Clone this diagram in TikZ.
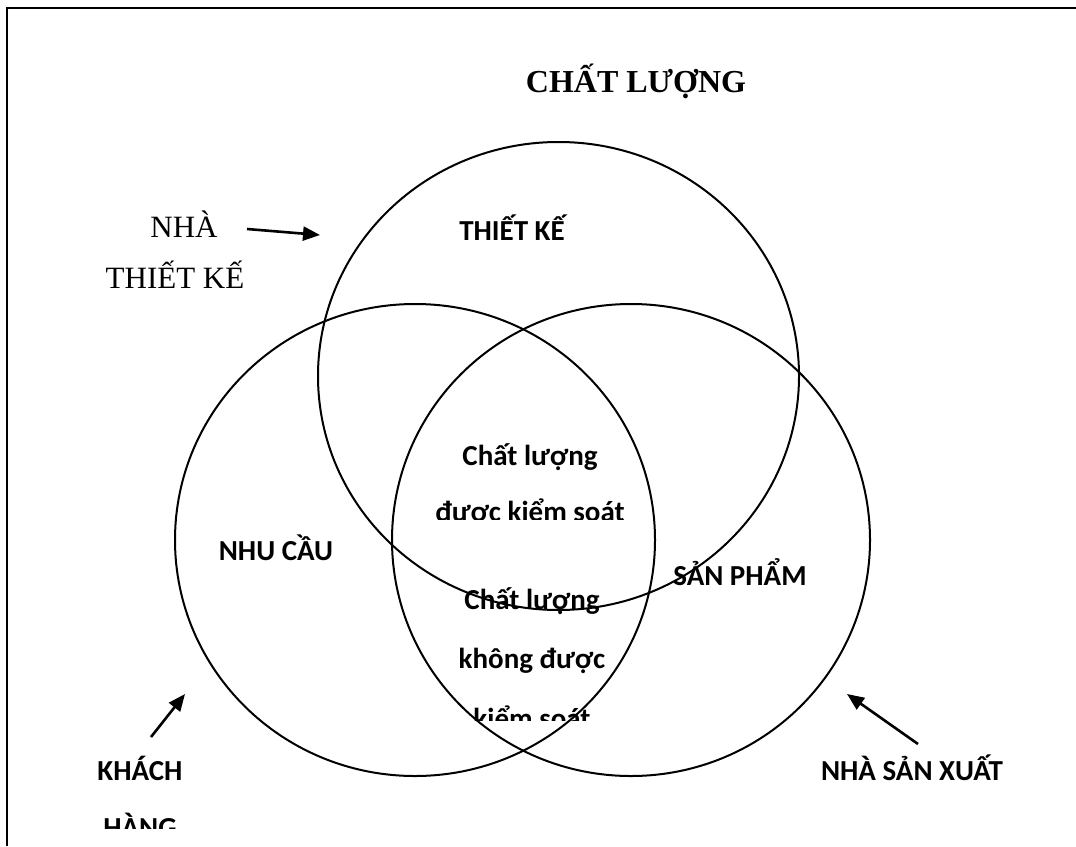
\documentclass[tikz,border=0pt]{standalone}
\usepackage{fontspec}
\setmainfont{Liberation Serif}
\newfontfamily\calfont{Carlito}
\usetikzlibrary{arrows.meta}
\tikzset{
  ring/.style={draw=black, line width=2pt},
  lbl/.style={font=\calfont\bfseries\fontsize{29}{34}\selectfont, anchor=base, inner sep=0pt},
  serif/.style={font=\fontsize{31}{36}\selectfont, anchor=base, inner sep=0pt},
  title/.style={font=\bfseries\fontsize{32}{38}\selectfont, anchor=base, inner sep=0pt},
  pointer/.style={line width=2.6pt, -{Triangle[length=17pt,width=14pt]}}
}
\begin{document}
\begin{tikzpicture}[x=1pt,y=-1pt]
\useasboundingbox (0,0) rectangle (1076,846);
% open frame: only the top and left edges show
\draw[line width=2.6pt] (7,846) -- (7,8) -- (1076,8);

% three overlapping rings
\draw[ring] (558.5,376) ellipse [x radius=240.5, y radius=234];
\draw[ring] (415,540) ellipse [x radius=240, y radius=236];
\draw[ring] (631,540) ellipse [x radius=239, y radius=236];

% heading
\node[title] (title) at (636,92) {CHẤT LƯỢNG};

% designer label and pointer
\node[serif] (nha) at (184,237) {NHÀ};
\node[serif] (tk) at (175,288) {THIẾT KẾ};
\coordinate (p1a) at (247,229);
\coordinate (p1b) at (320,235);
\draw[pointer] (p1a) -- (p1b);

% ring labels
\node[lbl] (design) at (512,240) {THIẾT KẾ};
\node[lbl] (needs) at (276,560) {NHU CẦU};
\node[lbl] (product) at (740,585) {SẢN PHẨM};

% centre texts, cut off at the bottom of their boxes
\node[lbl] (cq1) at (530,465) {Chất lượng};
\begin{scope}
  \clip (400,480) rectangle (660,519);
  \node[lbl] (cq2) at (530,521) {được kiểm soát};
\end{scope}
\node[lbl] (uq1) at (532,609) {Chất lượng};
\node[lbl] (uq2) at (532,668) {không được};
\begin{scope}
  \clip (400,680) rectangle (660,720);
  \node[lbl] (uq3) at (532,728) {kiểm soát};
\end{scope}

% customer label and pointer
\node[lbl] (kh1) at (140,780) {KHÁCH};
\begin{scope}
  \clip (60,800) rectangle (240,828);
  \node[lbl] (kh2) at (140,837) {HÀNG};
\end{scope}
\coordinate (p2a) at (151,737);
\coordinate (p2b) at (185,694);
\draw[pointer] (p2a) -- (p2b);

% producer label and pointer
\node[lbl] (nsx) at (912,780) {NHÀ SẢN XUẤT};
\coordinate (p3a) at (918,744);
\coordinate (p3b) at (847,694);
\draw[pointer] (p3a) -- (p3b);
\end{tikzpicture}
\end{document}
